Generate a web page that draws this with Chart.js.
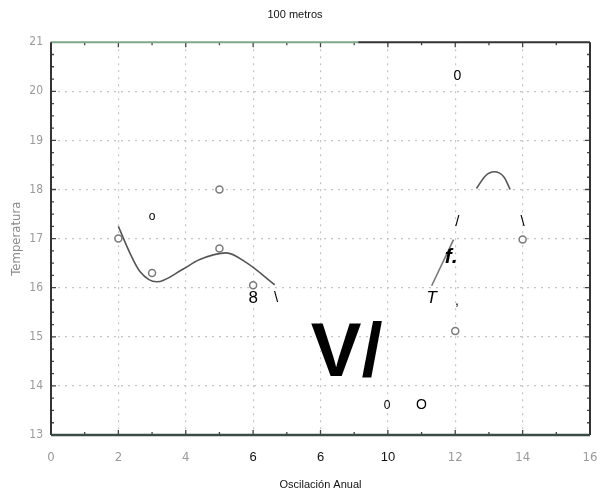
<!DOCTYPE html>
<html>
<head>
<meta charset="utf-8">
<script src="https://cdn.jsdelivr.net/npm/chart.js@4/dist/chart.umd.min.js"></script>
<style>
  html, body { margin: 0; padding: 0; background: #fff; }
  #wrap { width: 607px; height: 496px; }
</style>
</head>
<body>
<div id="wrap"><canvas id="grafico"></canvas></div>
<script>
// datos
const puntosX = [2, 3, 5, 5, 6, 12, 14];
const puntosY = [17.0, 16.3, 18.0, 16.8, 16.05, 15.12, 16.98];

// curva ajustada (tramo izquierdo)
const curvaIzqX = [2, 2.34, 2.64, 3.14, 3.9, 4.4, 5.2, 5.8, 6.64];
const curvaIzqY = [17.25, 16.71, 16.33, 16.12, 16.37, 16.57, 16.71, 16.51, 16.06];

// tramo recto y arco de la derecha
const rectaX = [11.3, 11.95];
const rectaY = [16.04, 16.98];
const arcoX = [12.63, 12.9, 13.16, 13.45, 13.63];
const arcoY = [18.02, 18.28, 18.36, 18.25, 18.0];

// etiquetas del eje x (algunas quedaron reconocidas en negro)
const xTickValues = [0, 2, 4, 6, 8, 10, 12, 14, 16];
const xTickLabels = ['0', '2', '4', '6', '6', '10', '12', '14', '16'];
const xTickOcr = [false, false, false, true, true, true, false, false, false];

// textos sueltos sobre el gráfico (posición en unidades de los ejes)
const notasTexto = ['0', 'o', '8', '\\', '/', '\\', 'f.', 'T', ',', 'V/', '0', 'O'];
const notasX = [12.06, 3.0, 6.0, 6.68, 12.06, 14.0, 11.88, 11.3, 12.05, 8.78, 9.98, 11.0];
const notasY = [20.3, 17.45, 15.78, 15.8, 17.35, 17.35, 16.63, 15.78, 15.72, 14.63, 13.6, 13.6];
const notasFuente = [
    '14px "Liberation Sans"', '12px "Liberation Sans"', '17px "Liberation Sans"',
    '15px "Liberation Sans"', '15px "Liberation Sans"', '15px "Liberation Sans"',
    'italic bold 21px "Liberation Sans"', 'italic 17px "Liberation Sans"', '14px "Liberation Sans"',
    'bold 76px "Liberation Sans"', '12px "Liberation Sans"', '14px "Liberation Sans"'
];

const gris = '#9a9a9a';
const fuenteGris = '"DejaVu Sans Condensed", "Liberation Sans Narrow", sans-serif';

const esOcr = c => !!(c && c.tick && xTickOcr[xTickValues.indexOf(c.tick.value)]);

// marco y marcas menores hacia dentro, como en el original
const marcoPlugin = {
    id: 'marco',
    afterDatasetsDraw(chart) {
        const ctx = chart.ctx;
        const a = chart.chartArea;
        const sx = chart.scales.x, sy = chart.scales.y;
        ctx.save();
        ctx.strokeStyle = '#444';
        ctx.lineWidth = 1.3;
        for (let v = 1; v < 16; v++) {
            const px = sx.getPixelForValue(v);
            const len = v % 2 === 0 ? 5 : 3;
            ctx.beginPath();
            ctx.moveTo(px, a.bottom); ctx.lineTo(px, a.bottom - len);
            ctx.moveTo(px, a.top); ctx.lineTo(px, a.top + len);
            ctx.stroke();
        }
        for (let v = 13.25; v < 21; v += 0.25) {
            const py = sy.getPixelForValue(v);
            const len = Number.isInteger(v) ? 5 : 3;
            ctx.beginPath();
            ctx.moveTo(a.left, py); ctx.lineTo(a.left + len, py);
            ctx.moveTo(a.right, py); ctx.lineTo(a.right - len, py);
            ctx.stroke();
        }
        // bordes
        const corte = a.left + (a.right - a.left) * 0.57;
        ctx.lineWidth = 2;
        ctx.strokeStyle = '#7fa88a';
        ctx.beginPath(); ctx.moveTo(a.left, a.top); ctx.lineTo(corte, a.top); ctx.stroke();
        ctx.strokeStyle = '#333';
        ctx.beginPath(); ctx.moveTo(corte, a.top); ctx.lineTo(a.right, a.top); ctx.stroke();
        ctx.beginPath(); ctx.moveTo(a.left, a.top); ctx.lineTo(a.left, a.bottom); ctx.stroke();
        ctx.beginPath(); ctx.moveTo(a.right, a.top); ctx.lineTo(a.right, a.bottom); ctx.stroke();
        ctx.lineWidth = 2.5;
        ctx.strokeStyle = '#3b4a42';
        ctx.beginPath(); ctx.moveTo(a.left, a.bottom); ctx.lineTo(a.right, a.bottom); ctx.stroke();
        // textos sueltos
        ctx.fillStyle = '#000';
        ctx.textAlign = 'center';
        ctx.textBaseline = 'middle';
        notasTexto.forEach((t, i) => {
            ctx.font = notasFuente[i];
            ctx.fillText(t, sx.getPixelForValue(notasX[i]), sy.getPixelForValue(notasY[i]));
        });
        ctx.restore();
    }
};

const aPuntos = (xs, ys) => xs.map((x, i) => ({ x: x, y: ys[i] }));

new Chart(document.getElementById('grafico').getContext('2d'), {
    type: 'scatter',
    data: {
        datasets: [
            {
                label: 'Observaciones',
                data: aPuntos(puntosX, puntosY),
                pointStyle: 'circle',
                pointRadius: 3.5,
                borderColor: '#7a7a7a',
                backgroundColor: 'rgba(255,255,255,0.9)',
                borderWidth: 1.5
            },
            {
                type: 'line',
                label: 'Ajuste',
                data: aPuntos(curvaIzqX, curvaIzqY),
                borderColor: '#555',
                borderWidth: 1.6,
                pointRadius: 0,
                cubicInterpolationMode: 'monotone',
                fill: false
            },
            {
                type: 'line',
                label: 'Ajuste 2',
                data: aPuntos(rectaX, rectaY),
                borderColor: '#777',
                borderWidth: 1.6,
                pointRadius: 0,
                fill: false
            },
            {
                type: 'line',
                label: 'Ajuste 3',
                data: aPuntos(arcoX, arcoY),
                borderColor: '#555',
                borderWidth: 1.6,
                pointRadius: 0,
                cubicInterpolationMode: 'monotone',
                fill: false
            }
        ]
    },
    options: {
        responsive: true,
        maintainAspectRatio: false,
        animation: false,
        layout: { padding: { left: 0, right: 17, top: 0, bottom: 0 } },
        plugins: {
            legend: { display: false },
            tooltip: { enabled: false },
            title: {
                display: true,
                text: '100 metros',
                color: '#111',
                font: { family: '"Liberation Sans", Arial, sans-serif', size: 11, weight: 'normal' },
                padding: { top: 8, bottom: 21 }
            }
        },
        scales: {
            x: {
                type: 'linear',
                min: 0,
                max: 16,
                afterFit: s => { s.height = 61; s.paddingRight = 0; s.paddingLeft = 0; },
                ticks: {
                    stepSize: 1,
                    autoSkip: false,
                    maxRotation: 0,
                    padding: 15,
                    callback: v => {
                        const i = xTickValues.indexOf(v);
                        return i < 0 ? '' : xTickLabels[i];
                    },
                    color: c => esOcr(c) ? '#111' : gris,
                    font: c => esOcr(c)
                        ? { family: '"Liberation Sans", Arial, sans-serif', size: 13 }
                        : { family: fuenteGris, size: 13 }
                },
                grid: {
                    drawTicks: false,
                    color: c => (c.tick && c.tick.value % 2 === 0 && c.tick.value > 0 && c.tick.value < 16) ? '#c4c4c4' : 'rgba(0,0,0,0)',
                    lineWidth: 1.2
                },
                border: { display: false, dash: [2, 5] },
                title: {
                    display: true,
                    text: 'Oscilación Anual',
                    color: '#111',
                    font: { family: '"Liberation Sans", Arial, sans-serif', size: 11 },
                    padding: { top: 8 }
                }
            },
            y: {
                min: 13,
                max: 21,
                afterFit: s => { s.width = 51; },
                ticks: {
                    stepSize: 1,
                    padding: 8,
                    color: gris,
                    font: { family: fuenteGris, size: 12 }
                },
                grid: {
                    drawTicks: false,
                    color: c => (c.tick && c.tick.value > 13 && c.tick.value < 21) ? '#c4c4c4' : 'rgba(0,0,0,0)',
                    lineWidth: 1.2
                },
                border: { display: false, dash: [2, 5] },
                title: {
                    display: true,
                    text: 'Temperatura',
                    color: '#8a8a8a',
                    font: { family: fuenteGris, size: 13 },
                    padding: { top: 9, bottom: 2 }
                }
            }
        }
    },
    plugins: [marcoPlugin]
});
</script>
</body>
</html>
